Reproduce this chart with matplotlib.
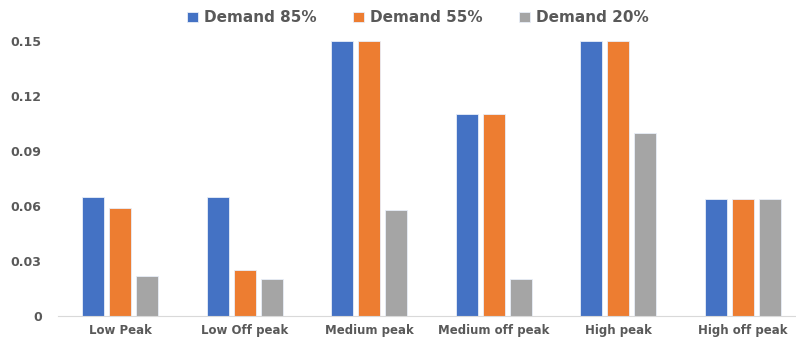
import numpy as np
import matplotlib.pyplot as plt

categories = ['Low Peak', 'Low Off peak', 'Medium peak', 'Medium off peak', 'High peak', 'High off peak']
demand_85 = [0.065, 0.065, 0.15, 0.11, 0.15, 0.064]
demand_55 = [0.059, 0.025, 0.15, 0.11, 0.15, 0.064]
demand_20 = [0.022, 0.020, 0.058, 0.020, 0.100, 0.064]
series = ['Demand 85%', 'Demand 55%', 'Demand 20%']
colors = ['#4472C4', '#ED7D31', '#A5A5A5']

fig = plt.figure(figsize=(7.96, 3.43), dpi=100)
# plot area runs slightly past the right edge of the image
ax = fig.add_axes([0.0725, 0.079, 0.939, 0.801])

x = np.arange(len(categories))
w = 0.177
step = 0.217
for i, (vals, name, c) in enumerate(zip([demand_85, demand_55, demand_20], series, colors)):
    ax.bar(x + (i - 1) * step, vals, w, color=c, label=name, edgecolor='#e8eef8', linewidth=0.6)

ax.set_xlim(-0.5, len(categories) - 0.5)
ax.set_ylim(0, 0.15)
ax.set_yticks([0, 0.03, 0.06, 0.09, 0.12, 0.15])
ax.set_yticklabels(['0', '0.03', '0.06', '0.09', '0.12', '0.15'])
ax.set_xticks(x)
ax.set_xticklabels(categories)
for lab in ax.get_xticklabels() + ax.get_yticklabels():
    lab.set_fontweight('bold')
    lab.set_color('#595959')
ax.tick_params(axis='x', length=0, labelsize=8.5, pad=6)
ax.tick_params(axis='y', length=0, labelsize=9, pad=11.5)
for s in ['top', 'right', 'left']:
    ax.spines[s].set_visible(False)
ax.spines['bottom'].set_color('#d9d9d9')

leg = fig.legend(loc='upper center', bbox_to_anchor=(0.525, 1.01), ncol=3, frameon=False,
                 prop={'weight': 'bold', 'size': 11}, handlelength=0.7, handleheight=0.7,
                 columnspacing=2.4, handletextpad=0.4)
for t in leg.get_texts():
    t.set_color('#595959')

fig.savefig('out.png', dpi=100)
